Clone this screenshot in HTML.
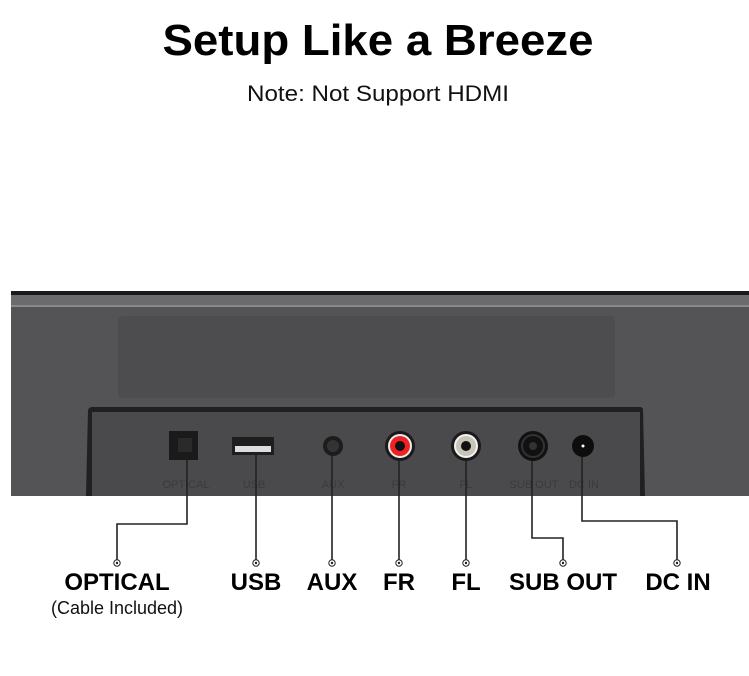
<!DOCTYPE html>
<html><head><meta charset="utf-8"><style>
html,body{margin:0;padding:0;background:#fff;}
svg{display:block;font-family:"Liberation Sans",Arial,sans-serif;}
</style></head><body>
<svg width="749" height="676" viewBox="0 0 749 676" xmlns="http://www.w3.org/2000/svg">
<rect width="749" height="676" fill="#fff"/>
<text x="378" y="55" text-anchor="middle" font-size="44" font-weight="bold" fill="#000" textLength="431" lengthAdjust="spacingAndGlyphs">Setup Like a Breeze</text>
<text x="378" y="101" text-anchor="middle" font-size="22" fill="#111" textLength="262" lengthAdjust="spacingAndGlyphs">Note: Not Support HDMI</text>
<!-- bar -->
<rect x="11" y="291" width="738" height="205" fill="#545456"/>
<rect x="11" y="291" width="738" height="4" fill="#1a1a1a"/>
<rect x="11" y="295" width="738" height="10" fill="#6b6b6d"/>
<rect x="11" y="305" width="738" height="2" fill="#8a8a8c"/>
<rect x="118" y="316" width="497" height="82" rx="4" fill="#4d4d4f"/>
<!-- recess -->
<path d="M86,496 L88,410 Q89,407 92,407 L640,407 Q643,407 643,410 L645,496 Z" fill="#202020"/>
<rect x="92" y="412" width="548" height="84" fill="#4a4a4c"/>
<!-- ports -->
<rect x="169" y="431" width="29" height="29" fill="#1a1a1a"/>
<path d="M178,438 h14 v14 h-14z" fill="#2a2a2a"/>
<rect x="232" y="437" width="42" height="18" fill="#1e1e1e"/>
<rect x="235" y="446" width="36" height="6" fill="#ddd"/>
<circle cx="333" cy="446" r="10" fill="#1c1c1c"/><circle cx="333" cy="446" r="6" fill="#333"/>
<circle cx="400" cy="446" r="15" fill="#1a1a1a"/><circle cx="400" cy="446" r="12" fill="#eee"/><circle cx="400" cy="446" r="10" fill="#e22"/><circle cx="400" cy="446" r="5" fill="#111"/>
<circle cx="466" cy="446" r="15" fill="#1a1a1a"/><circle cx="466" cy="446" r="12" fill="#f2f2f2"/><circle cx="466" cy="446" r="10" fill="#c8c4b8"/><circle cx="466" cy="446" r="5" fill="#111"/>
<circle cx="533" cy="446" r="15" fill="#111"/><circle cx="533" cy="446" r="12" fill="#333"/><circle cx="533" cy="446" r="10" fill="#111"/><circle cx="533" cy="446" r="4" fill="#333"/>
<circle cx="583" cy="446" r="11" fill="#0d0d0d"/><circle cx="583" cy="446" r="1.5" fill="#fff"/>
<g font-size="11" fill="#3a3a3a" text-anchor="middle">
<text x="186" y="488">OPTICAL</text><text x="254" y="488">USB</text><text x="333" y="488">AUX</text>
<text x="399" y="488">FR</text><text x="466" y="488">FL</text><text x="534" y="488">SUB OUT</text><text x="584" y="488">DC IN</text>
</g>
<!-- connectors -->
<g stroke="#222" stroke-width="1.6" fill="none">
<path d="M187,460 V524 H117 V560"/>
<path d="M256,455 V560"/>
<path d="M332,456 V560"/>
<path d="M399,461 V560"/>
<path d="M466,461 V560"/>
<path d="M532,461 V538 H563 V560"/>
<path d="M582,457 V521 H677 V560"/>
</g>
<g fill="#fff" stroke="#222" stroke-width="1">
<circle cx="117" cy="563" r="3.2"/><circle cx="256" cy="563" r="3.2"/><circle cx="332" cy="563" r="3.2"/>
<circle cx="399" cy="563" r="3.2"/><circle cx="466" cy="563" r="3.2"/><circle cx="563" cy="563" r="3.2"/><circle cx="677" cy="563" r="3.2"/>
</g>
<g fill="#222"><circle cx="117" cy="563" r="1.2"/><circle cx="256" cy="563" r="1.2"/><circle cx="332" cy="563" r="1.2"/><circle cx="399" cy="563" r="1.2"/><circle cx="466" cy="563" r="1.2"/><circle cx="563" cy="563" r="1.2"/><circle cx="677" cy="563" r="1.2"/></g>
<g font-size="24" font-weight="bold" fill="#000" text-anchor="middle">
<text x="117" y="590">OPTICAL</text><text x="256" y="590">USB</text><text x="332" y="590">AUX</text>
<text x="399" y="590">FR</text><text x="466" y="590">FL</text><text x="563" y="590">SUB OUT</text><text x="678" y="590">DC IN</text>
</g>
<text x="117" y="614" font-size="18" fill="#111" text-anchor="middle">(Cable Included)</text>
</svg>
</body></html>
